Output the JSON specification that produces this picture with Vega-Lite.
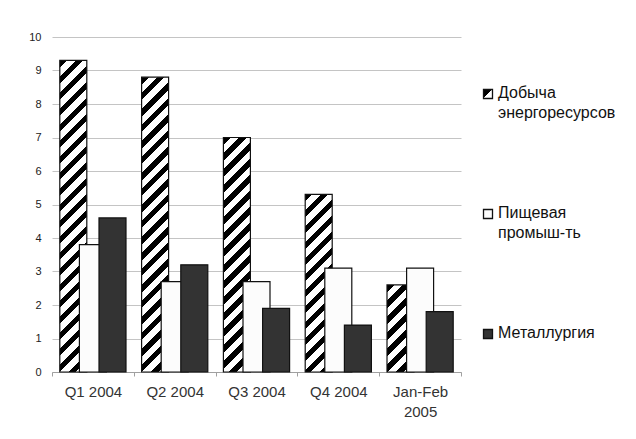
{
  "$schema": "https://vega.github.io/schema/vega-lite/v6.json",
  "width": 409,
  "height": 335,
  "autosize": "none",
  "padding": {"left": 52, "top": 37, "right": 175, "bottom": 67},
  "config": {
    "font": "Liberation Sans",
    "view": {"stroke": null}
  },
  "data": {
    "values": [
      {"cat": "Q1 2004", "series": "Добыча энергоресурсов", "v": 9.3},
      {"cat": "Q1 2004", "series": "Пищевая промыш-ть", "v": 3.8},
      {"cat": "Q1 2004", "series": "Металлургия", "v": 4.6},
      {"cat": "Q2 2004", "series": "Добыча энергоресурсов", "v": 8.8},
      {"cat": "Q2 2004", "series": "Пищевая промыш-ть", "v": 2.7},
      {"cat": "Q2 2004", "series": "Металлургия", "v": 3.2},
      {"cat": "Q3 2004", "series": "Добыча энергоресурсов", "v": 7.0},
      {"cat": "Q3 2004", "series": "Пищевая промыш-ть", "v": 2.7},
      {"cat": "Q3 2004", "series": "Металлургия", "v": 1.9},
      {"cat": "Q4 2004", "series": "Добыча энергоресурсов", "v": 5.3},
      {"cat": "Q4 2004", "series": "Пищевая промыш-ть", "v": 3.1},
      {"cat": "Q4 2004", "series": "Металлургия", "v": 1.4},
      {"cat": "Jan-Feb 2005", "series": "Добыча энергоресурсов", "v": 2.6},
      {"cat": "Jan-Feb 2005", "series": "Пищевая промыш-ть", "v": 3.1},
      {"cat": "Jan-Feb 2005", "series": "Металлургия", "v": 1.8}
    ]
  },
  "encoding": {
    "x": {
      "field": "cat", "type": "nominal", "sort": null,
      "scale": {"paddingInner": 0, "paddingOuter": 0},
      "axis": {
        "title": null, "labelAngle": 0, "labelFontSize": 15, "labelColor": "#333",
        "labelPadding": 8, "labelLineHeight": 20,
        "labelExpr": "datum.label === 'Jan-Feb 2005' ? ['Jan-Feb', '2005'] : datum.label",
        "domainColor": "#a0a0a0", "tickColor": "#a0a0a0", "tickSize": 4, "tickBand": "extent",
        "grid": false
      }
    },
    "xOffset": {
      "field": "series", "type": "nominal",
      "scale": {"domain": ["Добыча энергоресурсов", "Пищевая промыш-ть", "Металлургия"], "paddingInner": 0, "paddingOuter": 0.587}
    },
    "y": {
      "field": "v", "type": "quantitative",
      "scale": {"domain": [0, 10], "nice": false},
      "axis": {
        "title": null, "values": [0,1,2,3,4,5,6,7,8,9,10], "labelFontSize": 11, "labelColor": "#222",
        "labelPadding": 11, "ticks": false, "domain": false,
        "gridColor": "#c4c4c4", "gridWidth": 1
      }
    }
  },
  "layer": [
    {
      "transform": [{"filter": "datum.series === 'Добыча энергоресурсов'"}],
      "mark": {"type": "bar", "width": 27, "stroke": "#111", "strokeWidth": 1.2},
      "encoding": {
        "fill": {"value": {"expr": "{gradient:'linear',x1:0,y1:0,x2:27*352/(729+pow(datum.v*height/10,2)),y2:(datum.v*height/10)*352/(729+pow(datum.v*height/10,2)),stops:[{offset:0,color:'#000'},{offset:0.0205,color:'#000'},{offset:0.0205,color:'#fff'},{offset:0.0455,color:'#fff'},{offset:0.0455,color:'#000'},{offset:0.0659,color:'#000'},{offset:0.0659,color:'#fff'},{offset:0.0909,color:'#fff'},{offset:0.0909,color:'#000'},{offset:0.1114,color:'#000'},{offset:0.1114,color:'#fff'},{offset:0.1364,color:'#fff'},{offset:0.1364,color:'#000'},{offset:0.1568,color:'#000'},{offset:0.1568,color:'#fff'},{offset:0.1818,color:'#fff'},{offset:0.1818,color:'#000'},{offset:0.2023,color:'#000'},{offset:0.2023,color:'#fff'},{offset:0.2273,color:'#fff'},{offset:0.2273,color:'#000'},{offset:0.2477,color:'#000'},{offset:0.2477,color:'#fff'},{offset:0.2727,color:'#fff'},{offset:0.2727,color:'#000'},{offset:0.2932,color:'#000'},{offset:0.2932,color:'#fff'},{offset:0.3182,color:'#fff'},{offset:0.3182,color:'#000'},{offset:0.3386,color:'#000'},{offset:0.3386,color:'#fff'},{offset:0.3636,color:'#fff'},{offset:0.3636,color:'#000'},{offset:0.3841,color:'#000'},{offset:0.3841,color:'#fff'},{offset:0.4091,color:'#fff'},{offset:0.4091,color:'#000'},{offset:0.4295,color:'#000'},{offset:0.4295,color:'#fff'},{offset:0.4545,color:'#fff'},{offset:0.4545,color:'#000'},{offset:0.475,color:'#000'},{offset:0.475,color:'#fff'},{offset:0.5,color:'#fff'},{offset:0.5,color:'#000'},{offset:0.5205,color:'#000'},{offset:0.5205,color:'#fff'},{offset:0.5455,color:'#fff'},{offset:0.5455,color:'#000'},{offset:0.5659,color:'#000'},{offset:0.5659,color:'#fff'},{offset:0.5909,color:'#fff'},{offset:0.5909,color:'#000'},{offset:0.6114,color:'#000'},{offset:0.6114,color:'#fff'},{offset:0.6364,color:'#fff'},{offset:0.6364,color:'#000'},{offset:0.6568,color:'#000'},{offset:0.6568,color:'#fff'},{offset:0.6818,color:'#fff'},{offset:0.6818,color:'#000'},{offset:0.7023,color:'#000'},{offset:0.7023,color:'#fff'},{offset:0.7273,color:'#fff'},{offset:0.7273,color:'#000'},{offset:0.7477,color:'#000'},{offset:0.7477,color:'#fff'},{offset:0.7727,color:'#fff'},{offset:0.7727,color:'#000'},{offset:0.7932,color:'#000'},{offset:0.7932,color:'#fff'},{offset:0.8182,color:'#fff'},{offset:0.8182,color:'#000'},{offset:0.8386,color:'#000'},{offset:0.8386,color:'#fff'},{offset:0.8636,color:'#fff'},{offset:0.8636,color:'#000'},{offset:0.8841,color:'#000'},{offset:0.8841,color:'#fff'},{offset:0.9091,color:'#fff'},{offset:0.9091,color:'#000'},{offset:0.9295,color:'#000'},{offset:0.9295,color:'#fff'},{offset:0.9545,color:'#fff'},{offset:0.9545,color:'#000'},{offset:0.975,color:'#000'},{offset:0.975,color:'#fff'},{offset:1,color:'#fff'}]}"}}
      }
    },
    {
      "transform": [{"filter": "datum.series !== 'Добыча энергоресурсов'"}],
      "mark": {"type": "bar", "width": 27, "stroke": "#111", "strokeWidth": 1.2},
      "encoding": {
        "fill": {
          "field": "series", "type": "nominal",
          "scale": {"domain": ["Добыча энергоресурсов", "Пищевая промыш-ть", "Металлургия"], "range": [{"expr": "{gradient:'linear',x1:0,y1:0,x2:1,y2:1,stops:[{offset:0,color:'#000'},{offset:0.45,color:'#000'},{offset:0.45,color:'#fff'},{offset:1,color:'#fff'}]}"}, "#fcfcfc", "#333333"]},
          "legend": {
            "title": null, "orient": "none", "legendX": 428, "legendY": 49,
            "symbolType": "square", "symbolSize": 81, "symbolStrokeColor": "#111", "symbolStrokeWidth": 1.3,
            "labelFontSize": 16, "labelColor": "#111", "labelOffset": 2, "labelLimit": 200,
            "labelBaseline": "top", "rowPadding": 84,
            "labelExpr": "split(datum.label, ' ')",
            "encode": {
              "labels": {
                "enter": {"dy": {"value": -9}},
                "update": {"lineHeight": {"value": 20}, "dy": {"value": -9}}
              },
              "symbols": {"update": {
                "stroke": {"value": "#111"},
                "strokeWidth": {"value": 1.3},
                "fill": {"signal": "scale('fill', datum.value)"}
              }}
            }
          }
        }
      }
    }
  ]
}
